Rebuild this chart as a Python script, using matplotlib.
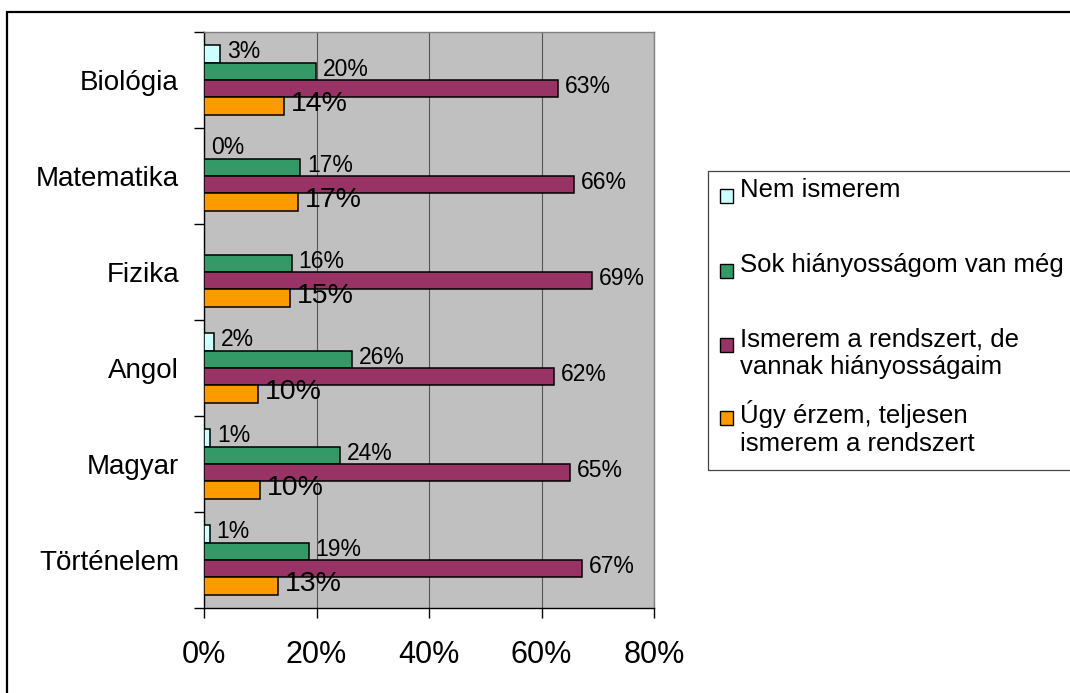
import numpy as np
import matplotlib
matplotlib.use('Agg')
import matplotlib.pyplot as plt
from matplotlib.patches import Rectangle

plt.rcParams['font.family'] = ['Liberation Sans', 'DejaVu Sans']

subjects = ['Biológia', 'Matematika', 'Fizika', 'Angol', 'Magyar', 'Történelem']
series_names = ['Nem ismerem',
                'Sok hiányosságom van még',
                'Ismerem a rendszert, de\nvannak hiányosságaim',
                'Úgy érzem, teljesen\nismerem a rendszert']
nem_ismerem = [2.8, 0.0, np.nan, 1.8, 1.1, 1.0]
sok_hiany = [19.9, 17.1, 15.6, 26.3, 24.2, 18.6]
ismerem_de = [62.9, 65.8, 69.0, 62.2, 65.0, 67.2]
teljesen = [14.2, 16.7, 15.3, 9.6, 10.0, 13.2]
xticks = [0, 20, 40, 60, 80]

colors = ['#CCFFFF', '#339966', '#993366', '#FF9900']
series = [nem_ismerem, sok_hiany, ismerem_de, teljesen]
label_sizes = [16.5, 16.5, 16.5, 20.5]

fig = plt.figure(figsize=(10.7, 6.93), dpi=100)
ax = fig.add_axes([204 / 1070, 85 / 693, 450 / 1070, 576 / 693])
ax.set_facecolor('#C0C0C0')

y = np.arange(len(subjects))
h = 0.18
offsets = [-0.27, -0.09, 0.09, 0.27]

for vals, col, off, fs in zip(series, colors, offsets, label_sizes):
    vals = np.array(vals, dtype=float)
    ok = ~np.isnan(vals)
    ax.barh(y[ok] + off, vals[ok], height=h, color=col, edgecolor='black',
            linewidth=1.1, zorder=3)
    for yy, v in zip(y[ok] + off, vals[ok]):
        ax.annotate(f"{v:.0f}%", (v, yy), xytext=(5, 1.5), textcoords='offset points',
                    va='center', ha='left', fontsize=fs, zorder=4)

ax.set_xlim(0, 80)
ax.set_ylim(len(subjects) - 0.5, -0.5)
ax.set_xticks(xticks)
ax.set_xticklabels([f"{t}%" for t in xticks], fontsize=22)
ax.tick_params(axis='x', direction='out', length=7, width=1, pad=16)
ax.grid(axis='x', color='#555555', linewidth=0.8, zorder=1)

ax.set_yticks(y)
ax.set_yticklabels(subjects, fontsize=20)
ax.tick_params(axis='y', length=0, pad=18)
ax.set_yticks(np.arange(len(subjects) + 1) - 0.5, minor=True)
ax.tick_params(axis='y', which='minor', direction='out', length=7, width=1)

for s in ['left', 'bottom']:
    ax.spines[s].set_color('black')
    ax.spines[s].set_linewidth(1)
for s in ['top', 'right']:
    ax.spines[s].set_color('#808080')
    ax.spines[s].set_linewidth(1)

# outer chart frame
fig.add_artist(Rectangle((7 / 1070, -0.2), 1.2, 1.2 - 12 / 693, transform=fig.transFigure,
                         fill=False, edgecolor='black', linewidth=1.6, clip_on=False))

# legend box
W, H = 1070, 693
fig.add_artist(Rectangle((708 / W, 1 - 470 / H), 400 / W, 299 / H, transform=fig.transFigure,
                         fill=False, edgecolor='#444444', linewidth=0.9, clip_on=False))
entry_tops = [178, 253, 327, 400]
for col, name, top in zip(colors, series_names, entry_tops):
    fig.add_artist(Rectangle((720 / W, 1 - (top + 25) / H), 13 / W, 14 / H,
                             transform=fig.transFigure, facecolor=col,
                             edgecolor='black', linewidth=1))
    fig.text(740 / W, 1 - top / H, name, fontsize=18.5, va='top', ha='left',
             linespacing=1.2)

fig.savefig('out.png', dpi=100)
